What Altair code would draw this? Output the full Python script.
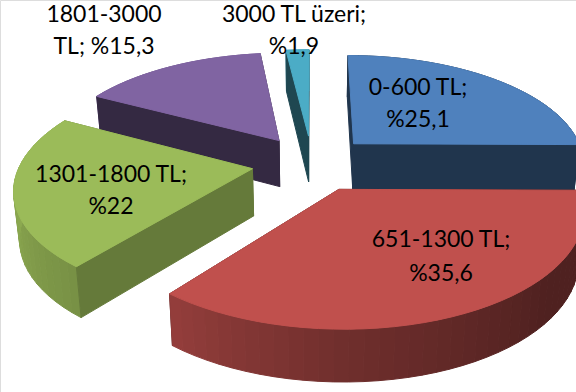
import altair as alt
import numpy as np

# Income bands and their shares (percent)
bands = ["0-600 TL", "651-1300 TL", "1301-1800 TL", "1801-3000 TL", "3000 TL üzeri"]
shares = [25.1, 35.6, 22.0, 15.3, 1.9]
top_colors = ["#4F81BD", "#C0504D", "#9BBB59", "#8064A2", "#4BACC6"]
paint_order = [0, 3, 4, 2, 1]  # back slices first, front slices over them

label_lines = [
    ["1801-3000", "TL; %15,3"],
    ["3000 TL üzeri;", "%1,9"],
    ["0-600 TL;", "%25,1"],
    ["1301-1800 TL;", "%22"],
    ["651-1300 TL;", "%35,6"],
]
label_x = [104, 294, 418, 111, 441]
label_y = [[15, 47], [15, 47], [88, 120], [175, 207], [240, 274]]

# Tilted-disc camera: screen position of a point on the pie's top plane
CX, CY, AX, AY, PERSP = 312.0, 163.0, 232.0, 108.0, 0.16
EXPLODE, DEPTH = 0.26, 47.0


def project(px, py):
    s = 1.0 / (1.0 - PERSP * py)
    return CX + AX * px * s, CY + AY * py * s


def drop(px, py):
    x, y = project(px, py)
    return CX + (x - CX) * 0.98, y + DEPTH * (1 + 0.1 * py)


def shade(hex_color, f):
    rgb = [int(hex_color[i:i + 2], 16) for i in (1, 3, 5)]
    return "#" + "".join(f"{int(round(c * f)):02x}" for c in rgb)


def wall_light(theta_deg):
    # The rim is lit from the left, dark towards the right
    return float(np.interp(theta_deg, [90, 130, 180, 218, 270, 300], [0.41, 0.41, 0.58, 0.77, 0.92, 0.9]))


def polygon(points, color):
    ring = [[float(a), float(b)] for a, b in points]
    ring.append(ring[0])
    return {
        "type": "Feature",
        "properties": {"color": color},
        "geometry": {"type": "Polygon", "coordinates": [ring]},
    }


def faces_viewer(normal_deg):
    return -np.cos(np.radians(normal_deg)) > 0


edges = np.concatenate([[0], np.cumsum(shares)]) / sum(shares) * 360.0
features = []
for i in paint_order:
    start, stop = edges[i], edges[i + 1]
    mid = np.radians((start + stop) / 2)
    ox, oy = EXPLODE * np.sin(mid), -EXPLODE * np.cos(mid)
    thetas = np.linspace(start, stop, max(int((stop - start) / 3), 2) + 1)
    rim = [(ox + np.sin(np.radians(t)), oy - np.cos(np.radians(t))) for t in thetas]
    base = top_colors[i]
    flat = shade(base, 0.65 if i == 2 else 0.41)

    def radial(p):
        return polygon([project(ox, oy), project(*p), drop(*p), drop(ox, oy)], flat)

    walls = [(rim[0], start - 90), (rim[-1], stop + 90)]
    # Radial walls turned away from the viewer go behind the rim
    features += [radial(p) for p, n in walls if not faces_viewer(n)]
    # Curved outer wall, in narrow strips so the lighting varies around the rim
    for k in range(len(rim) - 1):
        t = (thetas[k] + thetas[k + 1]) / 2
        features.append(polygon(
            [project(*rim[k]), project(*rim[k + 1]), drop(*rim[k + 1]), drop(*rim[k])],
            shade(base, wall_light(t)),
        ))
    features += [radial(p) for p, n in walls if faces_viewer(n)]
    # Top face
    features.append(polygon([project(ox, oy)] + [project(*p) for p in rim], base))

pie = (
    alt.Chart(alt.Data(values=features))
    .mark_geoshape(strokeWidth=1, opacity=1, clip=True)
    .encode(
        color=alt.Color("properties.color:N", scale=None),
        stroke=alt.Stroke("properties.color:N", scale=None),
    )
    .project(type="identity", scale=1, translate=[0, 0])
)

label_rows = [
    {"text": line, "px": label_x[i], "py": label_y[i][j]}
    for i, lines in enumerate(label_lines)
    for j, line in enumerate(lines)
]
labels = (
    alt.Chart(alt.Data(values=label_rows))
    .mark_text(font="Lato", fontSize=23, color="#000000", align="center", baseline="middle")
    .encode(
        x=alt.X("px:Q", scale=None, axis=None),
        y=alt.Y("py:Q", scale=None, axis=None),
        text="text:N",
    )
)

chart = (
    alt.layer(pie, labels)
    .properties(width=576, height=392, padding=0, autosize=alt.AutoSizeParams(type="none"))
    .configure_view(stroke=None)
    .configure(background="#FFFFFF")
)
chart.save("out.html", embed_options={"renderer": "svg", "actions": False})
